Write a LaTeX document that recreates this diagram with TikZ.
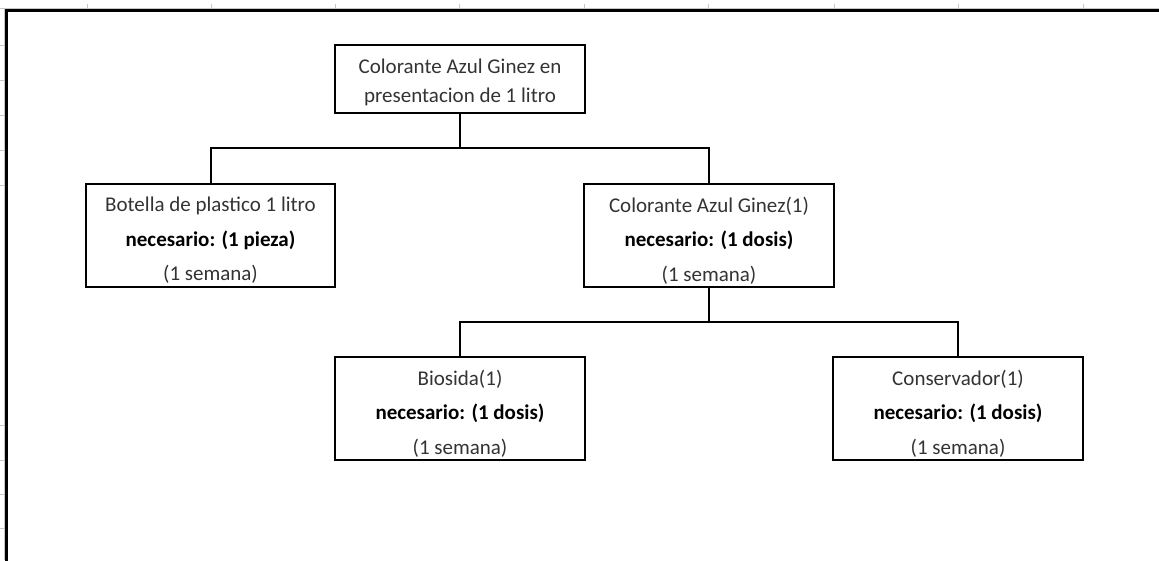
\documentclass[tikz,border=0pt]{standalone}
\usepackage{fontspec}
\setmainfont{Carlito}
\begin{document}
\begin{tikzpicture}[x=1pt,y=-1pt,
  box/.style={draw=black,line width=2pt,inner sep=0pt,
    minimum width=250pt,minimum height=103pt},
  topbox/.style={box,minimum height=68pt},
  txt/.style={inner sep=0pt,align=center,text=black!80,
    font=\fontsize{21}{34.5}\selectfont},
  toptxt/.style={txt,font=\fontsize{21}{29}\selectfont},
  conn/.style={draw=black,line width=2pt},
  grid/.style={draw=black!22,line width=0.8pt}]
\useasboundingbox (0,0) rectangle (1159,560);
% spreadsheet grid remnants
\draw[grid] (0,8) -- (1159,8);
\draw[grid] (4,8) -- (4,560);
\foreach \gx in {87,211,335,459,584,708,834,958,1083} \draw[grid] (\gx,4) -- (\gx,8);
\foreach \gy in {45,80,115,150,185,425,460,494,528} \draw[grid] (0,\gy) -- (4,\gy);
% frame
\draw[black,line width=3pt] (6,562) -- (6,10) -- (1161,10);
% boxes
\node[topbox] (top) at (460,79) {};
\node[box,minimum width=249pt] (bot) at (210.5,235.5) {};
\node[box] (col) at (709,235.5) {};
\node[box] (bio) at (460,408.5) {};
\node[box] (con) at (958,408.5) {};
% texts
\node[toptxt] (ttop) at ([yshift=-3.5pt]top.center) {Colorante Azul Ginez en\\presentacion de 1 litro};
\node[txt] (tbot) at ([yshift=-5pt]bot.center) {Botella de plastico 1 litro\\\textbf{\color{black}necesario: (1 pieza)}\\(1 semana)};
\node[txt] (tcol) at ([yshift=-5pt]col.center) {Colorante Azul Ginez(1)\\\textbf{\color{black}necesario: (1 dosis)}\\(1 semana)};
\node[txt] (tbio) at ([yshift=-5pt]bio.center) {Biosida(1)\\\textbf{\color{black}necesario: (1 dosis)}\\(1 semana)};
\node[txt] (tcon) at ([yshift=-5pt]con.center) {Conservador(1)\\\textbf{\color{black}necesario: (1 dosis)}\\(1 semana)};
% connectors
\coordinate (j1) at (460,148);
\coordinate (j2) at (709,322);
\draw[conn] (top.south) -- (j1);
\draw[conn] (bot.north) |- (j1) -| (col.north);
\draw[conn] (col.south) -- (j2);
\draw[conn] (bio.north) |- (j2) -| (con.north);
\end{tikzpicture}
\end{document}
